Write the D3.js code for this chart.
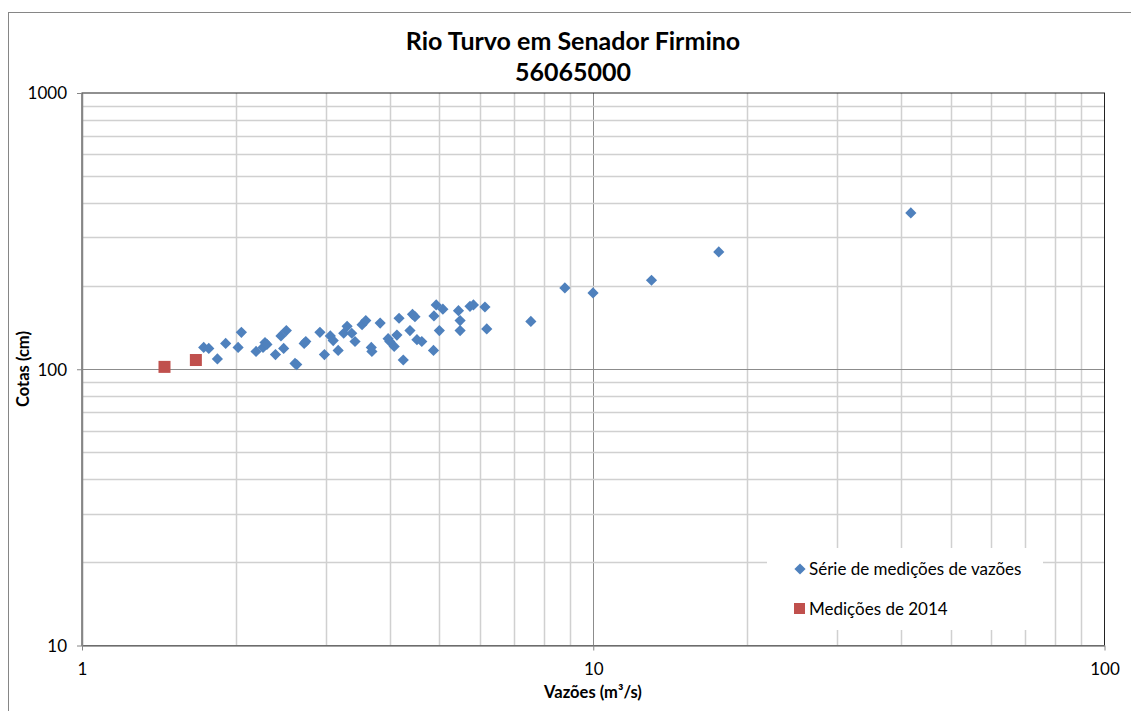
<!DOCTYPE html>
<html>
<head>
<meta charset="utf-8">
<title>Rio Turvo em Senador Firmino</title>
<script src="https://d3js.org/d3.v7.min.js"></script>
<style>
  body { margin: 0; background: #fff; }
  text { font-family: Lato, "Open Sans", sans-serif; fill: #000; }
</style>
</head>
<body>
<script>
// vazões (m3/s) e cotas (cm), série histórica
const vazoesSerie = [1.73, 1.77, 1.84, 1.91, 2.02, 2.05, 2.19, 2.26, 2.28, 2.30, 2.39, 2.45, 2.51, 2.48,
  2.61, 2.63, 2.72, 2.74, 2.92, 2.98, 3.06, 3.10, 3.17, 3.25, 3.30, 3.37, 3.42, 3.53, 3.59, 3.68, 3.69,
  3.83, 3.97, 4.00, 4.08, 4.13, 4.17, 4.25, 4.38, 4.43, 4.48, 4.52, 4.62, 4.87, 4.88, 4.93, 5.00, 5.08,
  5.45, 5.49, 5.49, 5.74, 5.83, 6.14, 6.19, 7.55, 8.8, 9.99, 13.0, 17.6, 41.8];
const cotasSerie = [120, 119, 109, 124, 120, 136, 116, 120, 125, 123, 113, 132, 138, 119,
  105, 104, 124, 126, 136, 113, 132, 127, 117, 135, 143, 135, 126, 145, 150, 120, 116,
  147, 129, 126, 121, 133, 153, 108, 138, 158, 155, 128, 126, 117, 156, 171, 138, 165,
  163, 150, 138, 169, 171, 168, 140, 149, 197, 189, 210, 266, 368];

// medições de 2014
const vazoes2014 = [1.45, 1.67];
const cotas2014 = [102, 108];

const xTicks = [1, 10, 100];
const yTicks = [10, 100, 1000];

const legendLabels = ["Série de medições de vazões", "Medições de 2014"];
const blue = "#4f81bd", red = "#c0504d";

const W = 1131, H = 711;
const mLeft = 82, mTop = 93, mRight = 1104.5, mBottom = 645.5;

const svg = d3.select("body").append("svg")
  .attr("width", W).attr("height", H);

// moldura do gráfico
svg.append("rect")
  .attr("x", 8.5).attr("y", 12.5)
  .attr("width", W + 10).attr("height", H + 10)
  .attr("fill", "#fff").attr("stroke", "#868686");

const x = d3.scaleLog().domain([1, 100]).range([mLeft, mRight]);
const y = d3.scaleLog().domain([10, 1000]).range([mBottom, mTop]);

const isMajor = v => Math.abs(Math.log10(v) - Math.round(Math.log10(v))) < 1e-9;

// grades
const grid = svg.append("g");
grid.selectAll(".gx").data(x.ticks().filter(v => v > 1 && v < 100))
  .join("line")
  .attr("x1", d => Math.round(x(d)) + 0.5).attr("x2", d => Math.round(x(d)) + 0.5)
  .attr("y1", mTop).attr("y2", mBottom)
  .attr("stroke", d => isMajor(d) ? "#8c8c8c" : "#d0d0d0")
  .attr("stroke-width", d => isMajor(d) ? 1 : 1.5);
grid.selectAll(".gy").data(y.ticks().filter(v => v > 10 && v < 1000))
  .join("line")
  .attr("x1", mLeft).attr("x2", mRight)
  .attr("y1", d => Math.round(y(d)) + 0.5).attr("y2", d => Math.round(y(d)) + 0.5)
  .attr("stroke", d => isMajor(d) ? "#8c8c8c" : "#d0d0d0")
  .attr("stroke-width", d => isMajor(d) ? 1 : 1.5);

// borda da área de plotagem
svg.append("rect")
  .attr("x", mLeft).attr("y", mTop)
  .attr("width", mRight - mLeft).attr("height", mBottom - mTop)
  .attr("fill", "none").attr("stroke", "#222").attr("stroke-width", 1);

// eixos
const xAxis = d3.axisBottom(x).tickValues(xTicks).tickFormat(d3.format("d"))
  .tickSizeInner(5).tickSizeOuter(0).tickPadding(10);
const yAxis = d3.axisLeft(y).tickValues(yTicks).tickFormat(d3.format("d"))
  .tickSizeInner(5).tickSizeOuter(0).tickPadding(10);

const gx = svg.append("g").attr("transform", `translate(0,${mBottom})`).call(xAxis);
const gy = svg.append("g").attr("transform", `translate(${mLeft},0)`).call(yAxis);
[gx, gy].forEach(g => {
  g.select(".domain").attr("stroke", "#868686").attr("stroke-width", 1.5);
  g.selectAll(".tick line").attr("stroke", "#868686");
  g.selectAll(".tick text").style("font-size", "17px").style("font-family", "Lato, sans-serif");
});
gx.selectAll(".tick text").attr("dy", "0.85em");
gy.selectAll(".tick text").attr("dy", "0.35em");

// pontos
const diamond = d3.symbol().type(d3.symbolDiamond2).size(80);
svg.append("g").selectAll("path")
  .data(vazoesSerie.map((v, i) => [v, cotasSerie[i]]))
  .join("path")
  .attr("d", diamond)
  .attr("transform", d => `translate(${x(d[0])},${y(d[1])})`)
  .attr("fill", blue);

svg.append("g").selectAll("rect")
  .data(vazoes2014.map((v, i) => [v, cotas2014[i]]))
  .join("rect")
  .attr("x", d => x(d[0]) - 6).attr("y", d => y(d[1]) - 6)
  .attr("width", 12).attr("height", 12)
  .attr("fill", red);

// títulos
const title = svg.append("text")
  .attr("x", 573).attr("text-anchor", "middle")
  .style("font-size", "25px").style("font-weight", "bold");
title.append("tspan").attr("x", 573).attr("y", 50).text("Rio Turvo em Senador Firmino");
title.append("tspan").attr("x", 573).attr("y", 81).text("56065000");

svg.append("text")
  .attr("x", 593).attr("y", 698).attr("text-anchor", "middle")
  .style("font-size", "16.5px").style("font-weight", "bold")
  .text("Vazões (m³/s)");

svg.append("text")
  .attr("transform", "translate(29,369) rotate(-90)")
  .attr("text-anchor", "middle")
  .style("font-size", "16.5px").style("font-weight", "bold")
  .text("Cotas (cm)");

// legenda
const lg = svg.append("g");
lg.append("rect")
  .attr("x", 767).attr("y", 548).attr("width", 276).attr("height", 82)
  .attr("fill", "#fff");
lg.append("path")
  .attr("d", diamond)
  .attr("transform", "translate(800,569)")
  .attr("fill", blue);
lg.append("rect")
  .attr("x", 794).attr("y", 603).attr("width", 11).attr("height", 11)
  .attr("fill", red);
lg.selectAll("text").data(legendLabels).join("text")
  .attr("x", 809).attr("y", (d, i) => 575 + i * 40)
  .style("font-size", "17px")
  .text(d => d);
</script>
</body>
</html>
